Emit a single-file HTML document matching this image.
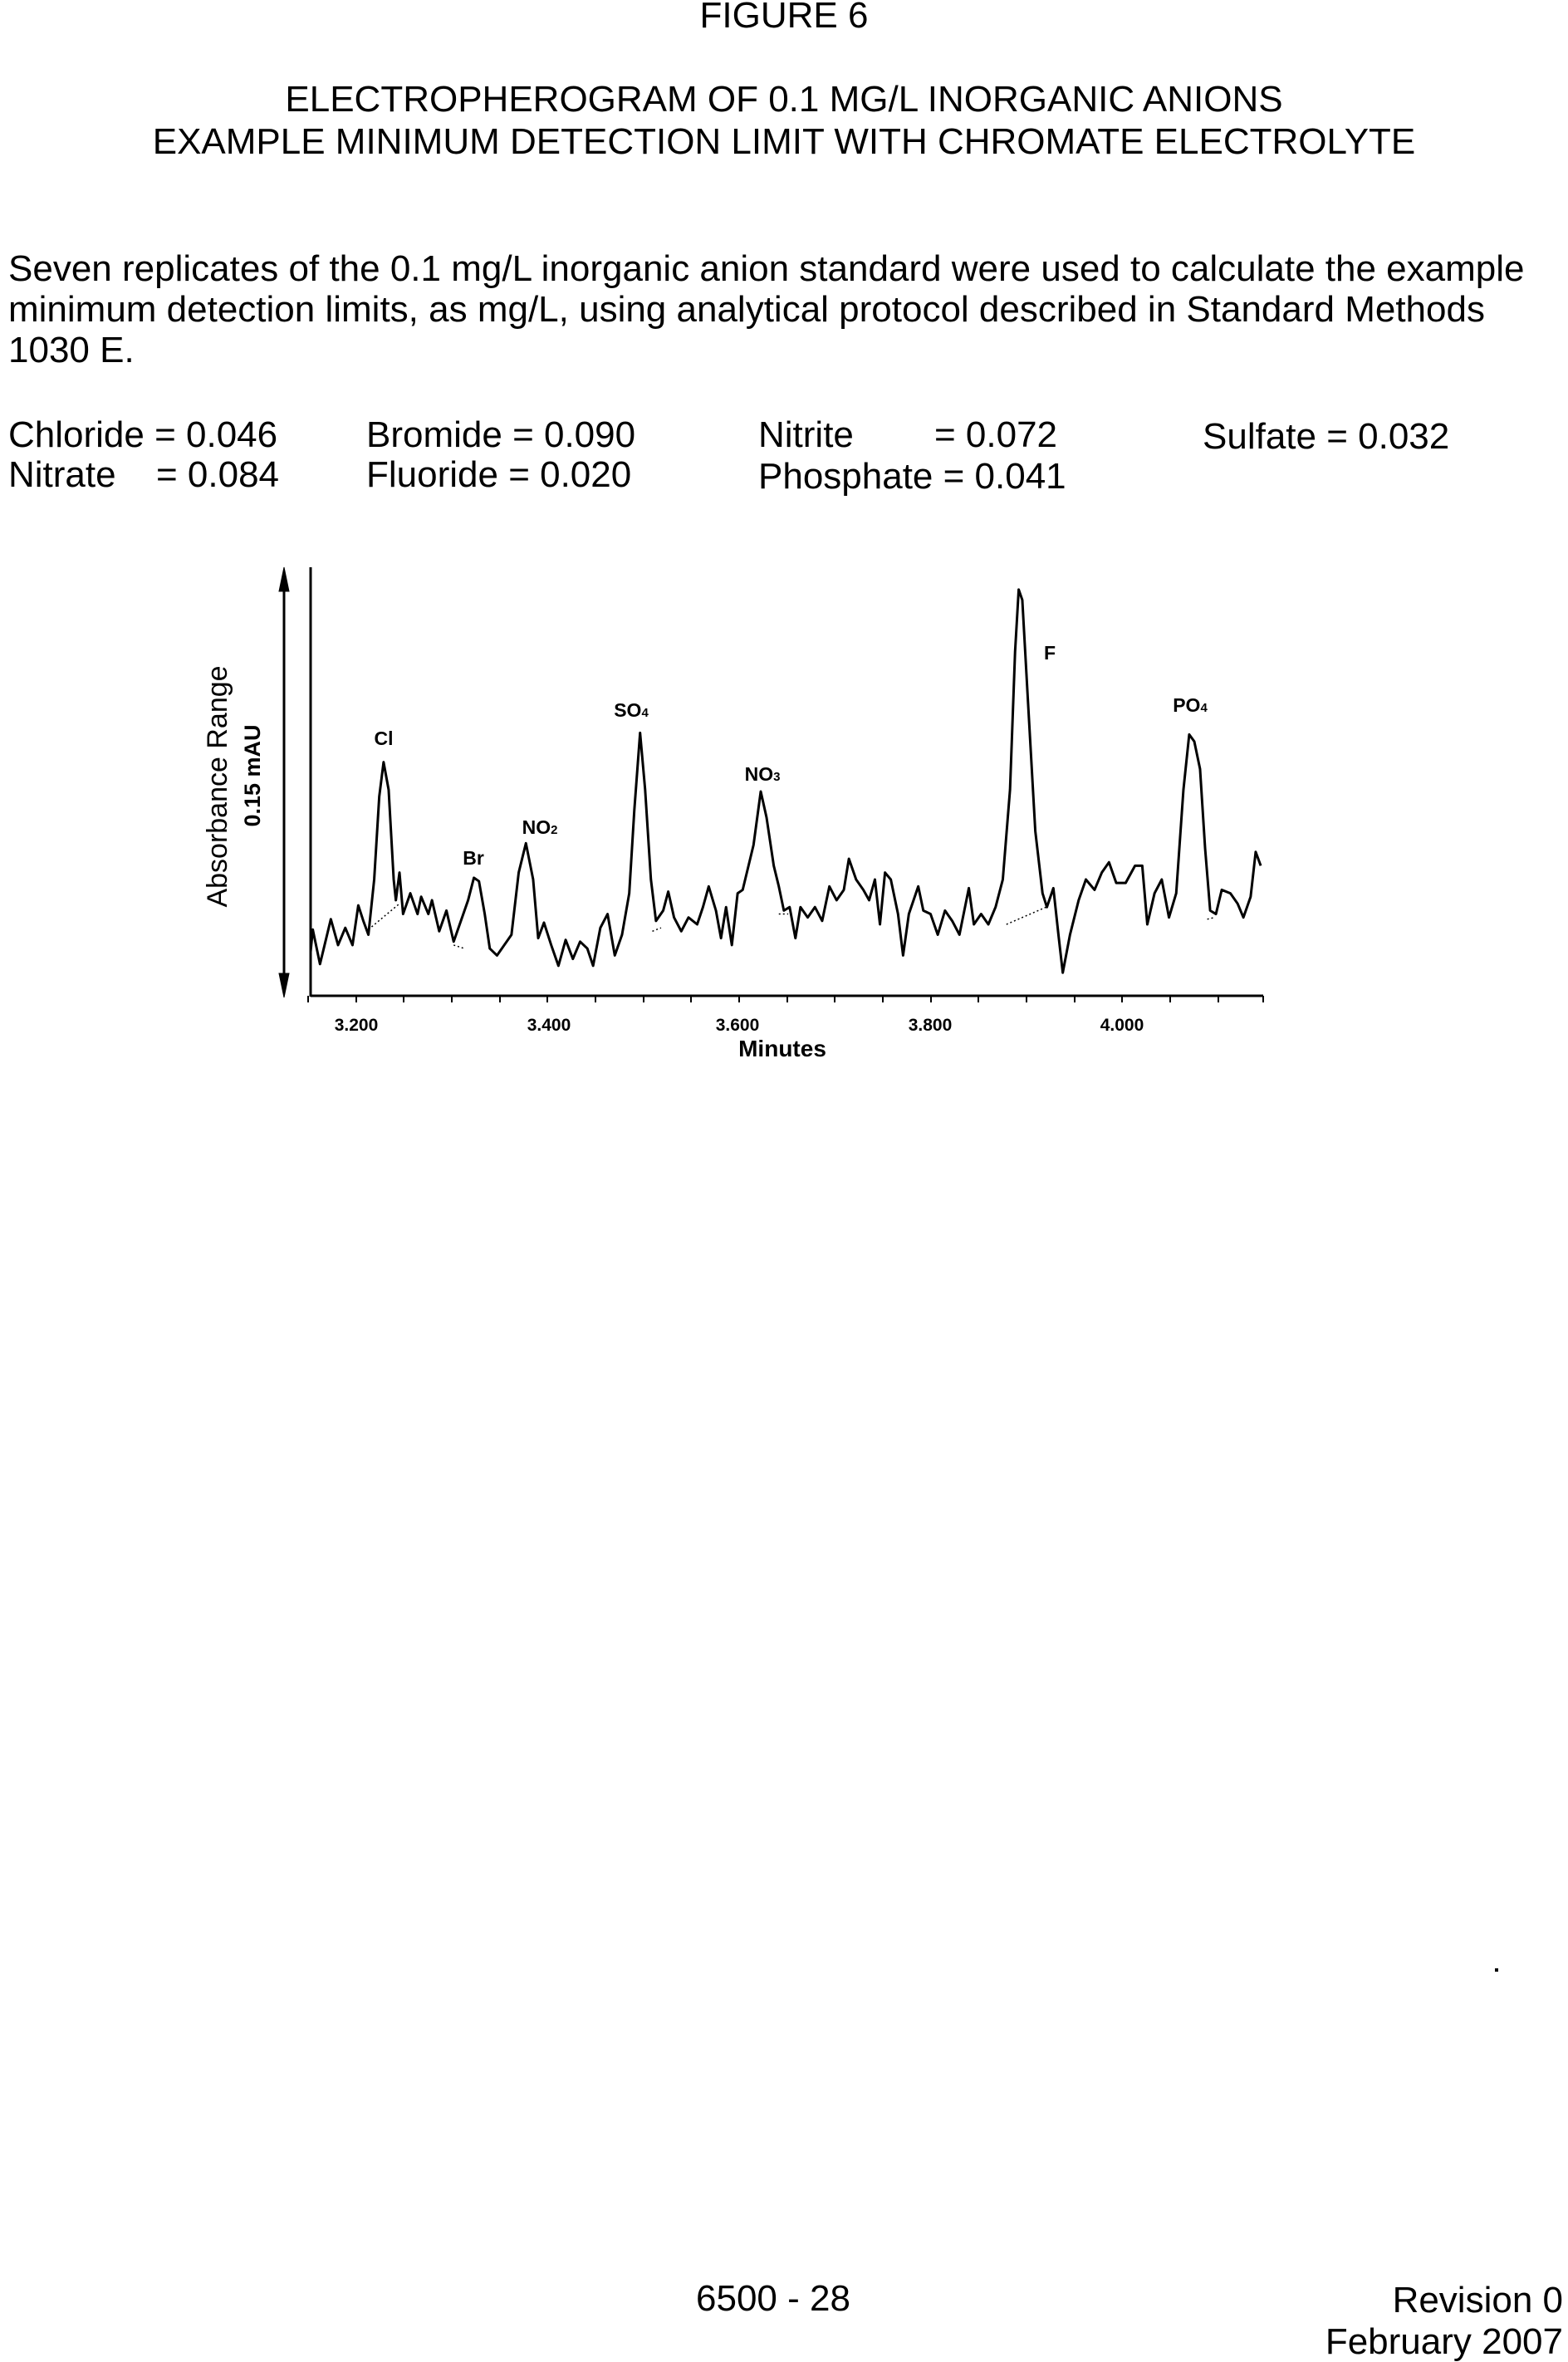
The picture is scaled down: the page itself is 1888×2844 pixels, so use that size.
<!DOCTYPE html>
<html><head><meta charset="utf-8"><style>
body{margin:0;width:1888px;height:2832px;background:#fff;position:relative;font-family:"Liberation Sans",Arial,sans-serif;color:#000}
.t{position:absolute;font-size:44px;line-height:49px;white-space:nowrap}
.c{left:0;width:1888px;text-align:center}
</style></head><body>
<div class="t c" style="top:-6px">FIGURE 6</div>
<div class="t c" style="top:95px">ELECTROPHEROGRAM OF 0.1 MG/L INORGANIC ANIONS</div>
<div class="t c" style="top:146px">EXAMPLE MINIMUM DETECTION LIMIT WITH CHROMATE ELECTROLYTE</div>
<div class="t" style="left:10px;top:299px">Seven replicates of the 0.1 mg/L inorganic anion standard were used to calculate the example</div>
<div class="t" style="left:10px;top:348px">minimum detection limits, as mg/L, using analytical protocol described in Standard Methods</div>
<div class="t" style="left:10px;top:397px">1030 E.</div>
<div class="t" style="left:10px;top:499px">Chloride = 0.046</div>
<div class="t" style="left:441px;top:499px">Bromide = 0.090</div>
<div class="t" style="left:913px;top:499px">Nitrite</div>
<div class="t" style="left:1125px;top:499px">= 0.072</div>
<div class="t" style="left:1448px;top:501px">Sulfate = 0.032</div>
<div class="t" style="left:10px;top:547px">Nitrate</div>
<div class="t" style="left:188px;top:547px">= 0.084</div>
<div class="t" style="left:441px;top:547px">Fluoride = 0.020</div>
<div class="t" style="left:913px;top:549px">Phosphate = 0.041</div>

<svg width="1888" height="2832" style="position:absolute;left:0;top:0" xmlns="http://www.w3.org/2000/svg">
<g stroke="#000" fill="none">
<line x1="374" y1="683" x2="374" y2="1200" stroke-width="3"/>
<line x1="374" y1="1199" x2="1521" y2="1199" stroke-width="3"/>
<line x1="342" y1="700" x2="342" y2="1185" stroke-width="3"/>
<path d="M336 712 L342 683 L348 712 Z M336 1172 L342 1201 L348 1172 Z" fill="#000"/>
<path stroke-width="2" d="M371 1199v8M429 1199v8M486 1199v8M544 1199v8M602 1199v8M659 1199v8M717 1199v8M775 1199v8M832 1199v8M890 1199v8M948 1199v8M1005 1199v8M1063 1199v8M1121 1199v8M1178 1199v8M1236 1199v8M1294 1199v8M1351 1199v8M1409 1199v8M1467 1199v8M1521 1199v8"/>
<g transform="translate(220,660) scale(0.87,0.4156)">
<polyline vector-effect="non-scaling-stroke" stroke-width="3" stroke-linejoin="round" points="177,1170 180,1105 190,1205 205,1075 215,1150 225,1100 235,1150 243,1035 250,1080 257,1120 265,960 272,720 278,620 285,700 292,960 295,1020 300,940 305,1060 315,1000 325,1060 330,1010 340,1060 345,1020 355,1110 365,1050 375,1140 385,1080 395,1020 403,955 410,965 418,1060 425,1160 435,1180 445,1150 455,1120 465,940 475,855 485,960 492,1130 500,1085 510,1150 520,1210 530,1135 540,1190 550,1140 560,1160 568,1210 578,1100 588,1060 598,1180 608,1120 618,1000 625,760 633,535 640,700 648,960 655,1080 665,1050 672,995 680,1070 690,1110 700,1070 712,1090 720,1040 728,980 738,1050 745,1130 752,1040 760,1150 768,1000 775,990 790,860 800,705 808,780 818,920 825,980 832,1050 840,1040 848,1130 855,1040 865,1070 875,1040 885,1080 895,980 905,1020 915,990 922,900 932,960 942,990 950,1020 958,960 965,1090 972,940 980,960 990,1060 997,1180 1005,1060 1018,980 1025,1050 1035,1060 1045,1120 1055,1050 1065,1080 1075,1120 1088,985 1095,1090 1105,1060 1115,1090 1125,1040 1135,960 1145,700 1152,300 1157,120 1162,150 1170,450 1180,820 1190,1000 1196,1040 1205,985 1212,1120 1218,1230 1228,1120 1240,1020 1250,960 1262,990 1272,940 1282,910 1292,970 1305,970 1318,920 1328,920 1335,1090 1345,1000 1355,960 1365,1070 1375,1000 1385,700 1393,540 1400,560 1408,640 1415,870 1422,1050 1430,1060 1438,990 1450,1000 1460,1030 1468,1070 1478,1010 1485,880 1492,920"/>
<path vector-effect="non-scaling-stroke" stroke-width="1.5" stroke-dasharray="2,3" d="M257 1105L300 1030M375 1150L390 1160M650 1110L662 1100M825 1060L838 1060M1140 1090L1195 1040M1418 1075L1428 1070"/>
</g>
</g>
<g font-family="Liberation Sans, Arial, sans-serif" font-weight="bold" font-size="21" text-anchor="middle">
<text x="429" y="1241">3.200</text>
<text x="661" y="1241">3.400</text>
<text x="888" y="1241">3.600</text>
<text x="1120" y="1241">3.800</text>
<text x="1351" y="1241">4.000</text>
<text x="942" y="1272" font-size="28">Minutes</text>
<text x="462" y="897" font-size="23">Cl</text>
<text x="570" y="1041" font-size="23">Br</text>
<text x="650" y="1004" font-size="23">NO<tspan font-size="15">2</tspan></text>
<text x="760" y="863" font-size="23">SO<tspan font-size="15">4</tspan></text>
<text x="918" y="940" font-size="23">NO<tspan font-size="15">3</tspan></text>
<text x="1264" y="794" font-size="23">F</text>
<text x="1433" y="857" font-size="23">PO<tspan font-size="15">4</tspan></text>
<text transform="translate(273,947) rotate(-90)" font-weight="normal" font-size="34">Absorbance Range</text>
<text transform="translate(313,934) rotate(-90)" font-size="27">0.15 mAU</text>
</g>
</svg>
<div class="t" style="left:838px;top:2743px">6500 - 28</div>
<div class="t" style="right:6px;top:2745px">Revision 0</div>
<div class="t" style="right:6px;top:2795px">February 2007</div>
<div style="position:absolute;left:1800px;top:2370px;width:4px;height:4px;background:#000"></div>
</body></html>
